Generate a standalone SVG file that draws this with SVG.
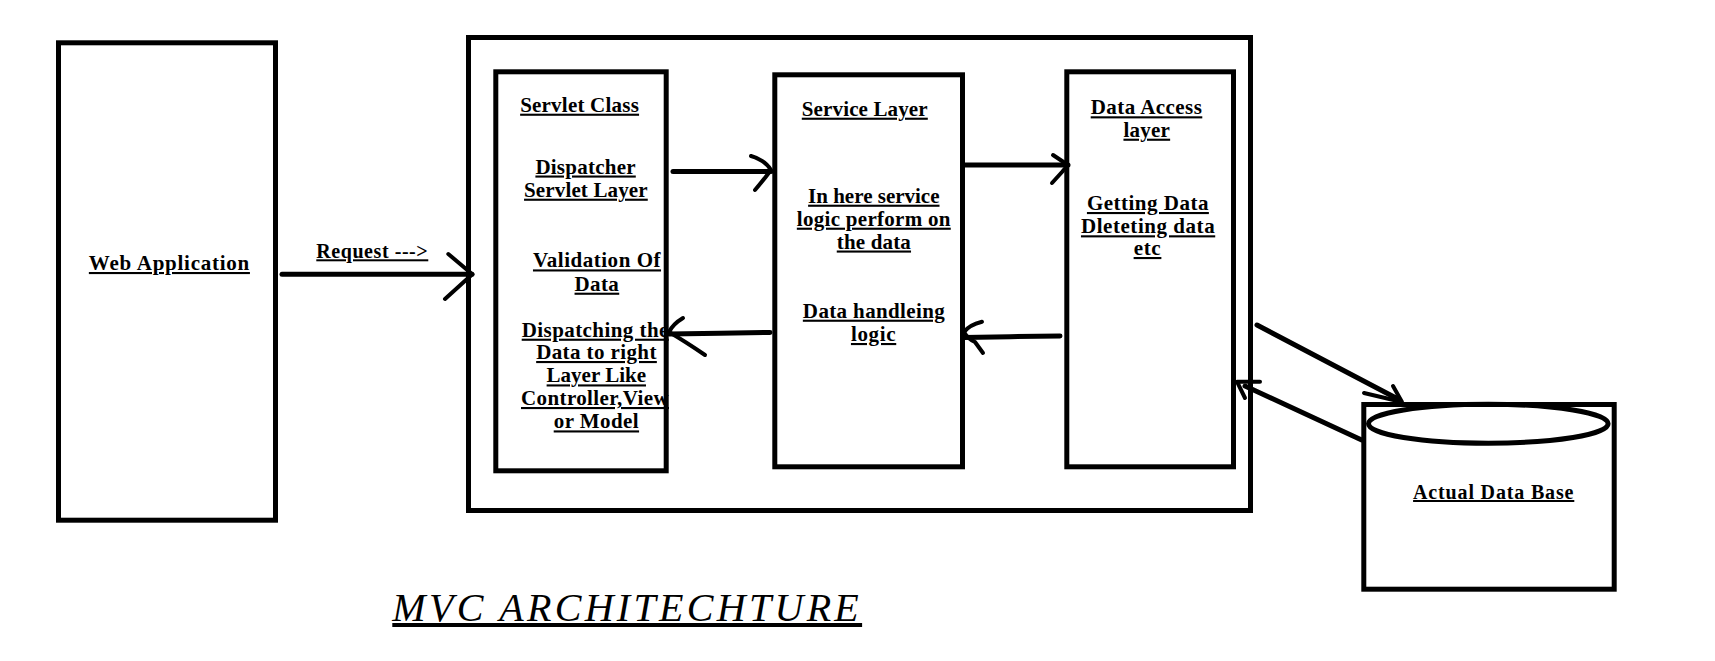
<svg xmlns="http://www.w3.org/2000/svg" width="1715" height="661" viewBox="0 0 1715 661">
<style>
.box{fill:none;stroke:#000;stroke-width:5}
.t{font-family:"Liberation Serif","Times New Roman",serif;font-weight:bold;font-size:21px;fill:#000;text-decoration:underline;text-anchor:middle}
.m{font-size:20px}
.st{text-anchor:start}
.title{font-family:"Liberation Serif","Times New Roman",serif;font-style:italic;font-size:40px;letter-spacing:3.3px;fill:#000;text-decoration:underline}
.c{fill:none;stroke:#000;stroke-width:5;stroke-linecap:round;stroke-linejoin:round}
.h{fill:none;stroke:#000;stroke-width:4;stroke-linecap:round;stroke-linejoin:round}
</style>
<rect width="1715" height="661" fill="#fff"/>
<g id="web-application">
<rect class="box" x="58.5" y="42.8" width="217" height="477.4"/>
<text class="t" x="169.4" y="270" letter-spacing="0.74">Web Application</text>
</g>
<g id="mvc-container">
<rect class="box" x="468.5" y="37.5" width="782" height="473"/>
</g>
<g id="servlet-class">
<text class="t" x="579.6" y="111.7" letter-spacing="0.22">Servlet Class</text>
<text class="t" x="585.6" y="173.5" letter-spacing="0.24">Dispatcher</text>
<text class="t" x="585.9" y="196.7" letter-spacing="0.14">Servlet Layer</text>
<text class="t" x="597" y="267.4" letter-spacing="0.53">Validation Of</text>
<text class="t" x="596.9" y="290.7" letter-spacing="0.38">Data</text>
<text class="t st" x="521.7" y="336.7" letter-spacing="0.43">Dispatching the</text>
<text class="t" x="596.5" y="359" letter-spacing="0.4">Data to right</text>
<text class="t" x="596.3" y="382.4">Layer Like</text>
<text class="t st" x="521" y="405" letter-spacing="0.39">Controller,View</text>
<text class="t" x="596.4" y="428.4" letter-spacing="0.44">or Model</text>
<rect class="box" x="495.8" y="71.8" width="170.4" height="399"/>
</g>
<g id="service-layer">
<rect class="box" x="774.8" y="74.8" width="187.7" height="392"/>
<text class="t" x="864.8" y="115.7" letter-spacing="0.14">Service Layer</text>
<text class="t" x="873.8" y="202.7">In here service</text>
<text class="t" x="873.8" y="225.7" letter-spacing="0.29">logic perform on</text>
<text class="t" x="873.9" y="248.5" letter-spacing="0.17">the data</text>
<text class="t" x="874" y="317.7" letter-spacing="0.37">Data handleing</text>
<text class="t" x="873.6" y="341" letter-spacing="0.66">logic</text>
</g>
<g id="data-access-layer">
<rect class="box" x="1066.8" y="71.8" width="166.7" height="395"/>
<text class="t" x="1146.5" y="114.3" letter-spacing="0.44">Data Access</text>
<text class="t" x="1146.8" y="136.7" letter-spacing="0.24">layer</text>
<text class="t" x="1147.9" y="210" letter-spacing="0.49">Getting Data</text>
<text class="t" x="1148.1" y="233.3" letter-spacing="0.55">Dleteting data</text>
<text class="t" x="1147.5" y="255" letter-spacing="0.7">etc</text>
</g>
<g id="actual-data-base">
<rect class="box" x="1363.8" y="404.5" width="250.4" height="184.7"/>
<ellipse class="box" cx="1488.3" cy="423.7" rx="119.8" ry="19.5"/>
<text class="t m" x="1493.7" y="499" letter-spacing="0.84">Actual Data Base</text>
</g>
<g id="connectors">
<path class="c" d="M282,274.3 L472,274.3"/>
<path class="h" d="M448.3,254 L472.3,274.3 L445,299"/>
<text class="t m" x="372.3" y="258.3" letter-spacing="0.56">Request ---&gt;</text>
<path class="c" d="M673,171.5 L771,171.5"/>
<path class="h" d="M751,156 Q765,160 771,170 Q762,182 755,190"/>
<path class="c" d="M770,332.5 L720,333.2 L669,334"/>
<path class="h" d="M683,318 Q673,324 669,332 Q686,342 705,355"/>
<path class="c" d="M965,165 L1068,165"/>
<path class="h" d="M1053,155 L1068,165 L1062,172 L1052,183"/>
<path class="c" d="M1060,336 L1010,336.7 L964,337.5"/>
<path class="h" d="M982,321.7 Q969,325 964,332 Q967,338 975,342 L983,353"/>
<path class="c" d="M1257,325 L1396,398"/>
<path class="h" d="M1393,386 L1402,402 L1364,393"/>
<path class="c" d="M1361.7,440 L1245,386"/>
<path class="h" d="M1260,381.7 L1237,381.7 L1245,398"/>
</g>
<text class="title" x="392.3" y="621">MVC ARCHITECHTURE</text>
</svg>
